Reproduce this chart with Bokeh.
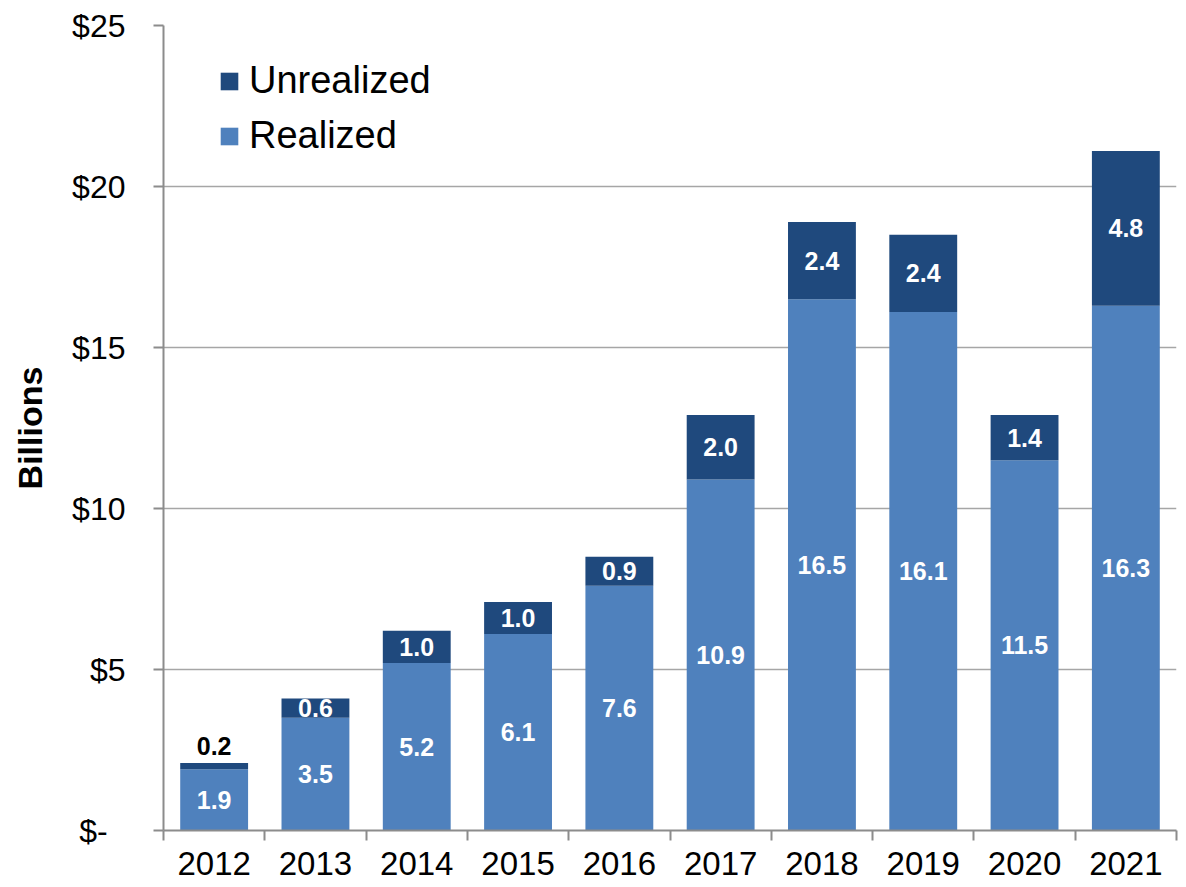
from bokeh.plotting import figure
from bokeh.models import ColumnDataSource, FixedTicker, Legend, LegendItem, Range1d
from bokeh.embed import file_html
from bokeh.resources import INLINE
from bokeh.core.properties import value

years = ["2012", "2013", "2014", "2015", "2016", "2017", "2018", "2019", "2020", "2021"]
realized = [1.9, 3.5, 5.2, 6.1, 7.6, 10.9, 16.5, 16.1, 11.5, 16.3]
unrealized = [0.2, 0.6, 1.0, 1.0, 0.9, 2.0, 2.4, 2.4, 1.4, 4.8]
y_ticks = [0, 5, 10, 15, 20, 25]
y_tick_labels = ["$-\u00a0\u00a0", "$5", "$10", "$15", "$20", "$25"]

C_REAL = "#4F81BD"
C_UNREAL = "#1F497D"
GRID = "#A6A6A6"
AXIS = "#8C8C8C"
FONT = "Liberation Sans"

xc = [i + 0.5 for i in range(len(years))]
tops = [r + u for r, u in zip(realized, unrealized)]

src = ColumnDataSource(dict(
    x=xc, realized=realized, unrealized=unrealized, top=tops,
    rlab=[f"{v:.1f}" for v in realized],
    rmid=[r / 2 for r in realized],
))

p = figure(width=1186, height=887, output_backend="svg", toolbar_location=None,
           x_range=Range1d(0, len(years)), y_range=Range1d(0, 25),
           min_border_left=163, min_border_right=10, min_border_top=25, min_border_bottom=57)
p.outline_line_color = None
p.background_fill_color = "white"
p.border_fill_color = "white"

r_real = p.vbar(x="x", bottom=0, top="realized", width=0.67, source=src,
                fill_color=C_REAL, line_color=None)
r_unreal = p.vbar(x="x", bottom="realized", top="top", width=0.67, source=src,
                  fill_color=C_UNREAL, line_color=None)

big = [i for i, u in enumerate(unrealized) if u >= 0.5]
small = [i for i, u in enumerate(unrealized) if u < 0.5]
src_u_in = ColumnDataSource(dict(
    x=[xc[i] for i in big],
    y=[realized[i] + unrealized[i] / 2 for i in big],
    t=[f"{unrealized[i]:.1f}" for i in big]))
src_u_out = ColumnDataSource(dict(
    x=[xc[i] for i in small],
    y=[tops[i] for i in small],
    t=[f"{unrealized[i]:.1f}" for i in small]))

lab_kw = dict(text_font=value(FONT), text_font_style="bold", text_font_size="25px",
              text_align="center")
p.text(x="x", y="rmid", text="rlab", source=src, text_color="white",
       text_baseline="middle", **lab_kw)
p.text(x="x", y="y", text="t", source=src_u_in, text_color="white",
       text_baseline="middle", **lab_kw)
p.text(x="x", y="y", text="t", source=src_u_out, text_color="black",
       text_baseline="bottom", y_offset=-8, **lab_kw)

xax = p.xaxis[0]
xax.ticker = FixedTicker(ticks=xc, minor_ticks=list(range(len(years) + 1)))
xax.major_label_overrides = {x: y for x, y in zip(xc, years)}
xax.major_tick_out = 0
xax.major_tick_in = 0
xax.minor_tick_out = 10
xax.minor_tick_in = 0
xax.minor_tick_line_color = AXIS
xax.minor_tick_line_width = 2
xax.axis_line_color = AXIS
xax.axis_line_width = 2
xax.major_label_text_font = FONT
xax.major_label_text_font_size = "33px"
xax.major_label_text_color = "black"
xax.major_label_standoff = 11

yax = p.yaxis[0]
yax.ticker = FixedTicker(ticks=y_ticks, minor_ticks=[])
yax.major_label_overrides = {t: l for t, l in zip(y_ticks, y_tick_labels)}
yax.major_tick_out = 10
yax.major_tick_in = 0
yax.major_tick_line_color = AXIS
yax.major_tick_line_width = 2
yax.axis_line_color = AXIS
yax.axis_line_width = 2
yax.major_label_text_font = FONT
yax.major_label_text_font_size = "32px"
yax.major_label_text_color = "black"
yax.major_label_standoff = 28
yax.axis_label = "Billions"
yax.axis_label_text_font = FONT
yax.axis_label_text_font_style = "bold"
yax.axis_label_text_font_size = "34px"
yax.axis_label_text_color = "black"
yax.axis_label_standoff = 20

p.xgrid.grid_line_color = None
p.ygrid.grid_line_color = GRID
p.ygrid.grid_line_width = 1.5
p.ygrid.ticker = FixedTicker(ticks=y_ticks)

legend = Legend(items=[LegendItem(label="Unrealized", renderers=[r_unreal]),
                       LegendItem(label="Realized", renderers=[r_real])],
                location=(55, 673), orientation="vertical")
legend.border_line_color = None
legend.background_fill_alpha = 0
legend.label_text_font = FONT
legend.label_text_font_size = "38px"
legend.label_text_color = "black"
legend.glyph_width = 22
legend.glyph_height = 22
legend.label_standoff = 9
legend.spacing = 12
legend.padding = 10
p.add_layout(legend)

open("out.html", "w").write(file_html(p, INLINE))
